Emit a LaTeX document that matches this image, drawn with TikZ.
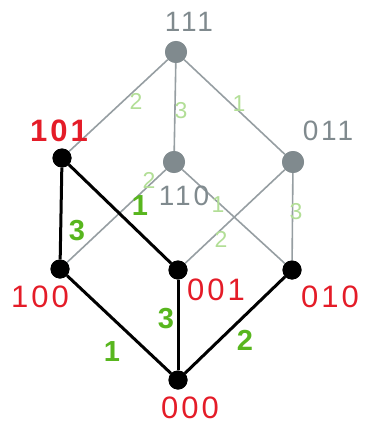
\documentclass[tikz,border=0pt]{standalone}
\usepackage{fontspec}
\setmainfont{Liberation Sans}
\newfontfamily\spaced[LetterSpace=10]{Liberation Sans}
\definecolor{nodegray}{RGB}{128,138,142}
\definecolor{linegray}{RGB}{150,158,162}
\definecolor{lblred}{RGB}{228,28,40}
\definecolor{grnbold}{RGB}{88,182,30}
\definecolor{grnlight}{RGB}{178,222,150}
\tikzset{
  gdot/.style={circle,fill=nodegray,inner sep=0pt,minimum size=22pt},
  bdot/.style={circle,fill=black,inner sep=0pt,minimum size=19pt},
  gedge/.style={draw=linegray,line width=1.6pt},
  bedge/.style={draw=black,line width=3pt},
  redlbl/.style={text=lblred,inner sep=0pt,font=\spaced\fontsize{31}{31}\selectfont},
  graylbl/.style={text=nodegray,inner sep=0pt,font=\spaced\fontsize{28}{28}\selectfont},
  glight/.style={text=grnlight,inner sep=0pt,font=\fontsize{23}{23}\selectfont},
  gbold/.style={text=grnbold,inner sep=0pt,font=\bfseries\fontsize{29}{29}\selectfont}
}
\begin{document}
\begin{tikzpicture}[x=1pt,y=-1pt]
\useasboundingbox (0,0) rectangle (371,425);
% vertices
\node[gdot] (v111) at (176,52) {};
\node[gdot] (v110) at (174,162) {};
\node[gdot] (v011) at (293,162) {};
\node[bdot] (v101) at (62,158) {};
\node[bdot] (v100) at (60,269) {};
\node[bdot] (v001) at (178,270) {};
\node[bdot] (v010) at (292,270) {};
\node[bdot] (v000) at (178,380) {};
% gray edges
\draw[gedge] (v111) -- (v101);
\draw[gedge] (v111) -- (v110);
\draw[gedge] (v111) -- (v011);
\draw[gedge] (v110) -- (v100);
\draw[gedge] (v110) -- (v010);
\draw[gedge] (v011) -- (v001);
\draw[gedge] (v011) -- (v010);
% black edges
\draw[bedge] (v101) -- (v100);
\draw[bedge] (v101) -- (v001);
\draw[bedge] (v100) -- (v000);
\draw[bedge] (v001) -- (v000);
\draw[bedge] (v010) -- (v000);
% redraw dots on top
\node[gdot] at (v111) {};
\node[gdot] at (v110) {};
\node[gdot] at (v011) {};
\node[bdot] at (v101) {};
\node[bdot] at (v100) {};
\node[bdot] at (v001) {};
\node[bdot] at (v010) {};
\node[bdot] at (v000) {};
% vertex labels
\node[graylbl] (l111) at (189,22) {111};
\node[graylbl] (l011) at (328,131) {011};
\node[graylbl] (l110) at (184,196) {110};
\node[redlbl] (l101) at (59,131) {\bfseries 101};
\node[redlbl] (l100) at (40,297) {100};
\node[redlbl] (l001) at (216,290) {001};
\node[redlbl] (l010) at (330,297) {010};
\node[redlbl] (l000) at (190,408) {000};
% edge labels
\node[glight] (e1) at (136,101) {2};
\node[glight] (e2) at (181,111) {3};
\node[glight] (e3) at (239,104) {1};
\node[glight] (e4) at (149,180) {2};
\node[gbold] (e5) at (140,206) {1};
\node[glight] (e6) at (218,205) {1};
\node[glight] (e7) at (221,239) {2};
\node[glight] (e8) at (296,212) {3};
\node[gbold] (e9) at (77,231) {3};
\node[gbold] (e10) at (166,319) {3};
\node[gbold] (e11) at (112,352) {1};
\node[gbold] (e12) at (245,340) {2};
\end{tikzpicture}
\end{document}
